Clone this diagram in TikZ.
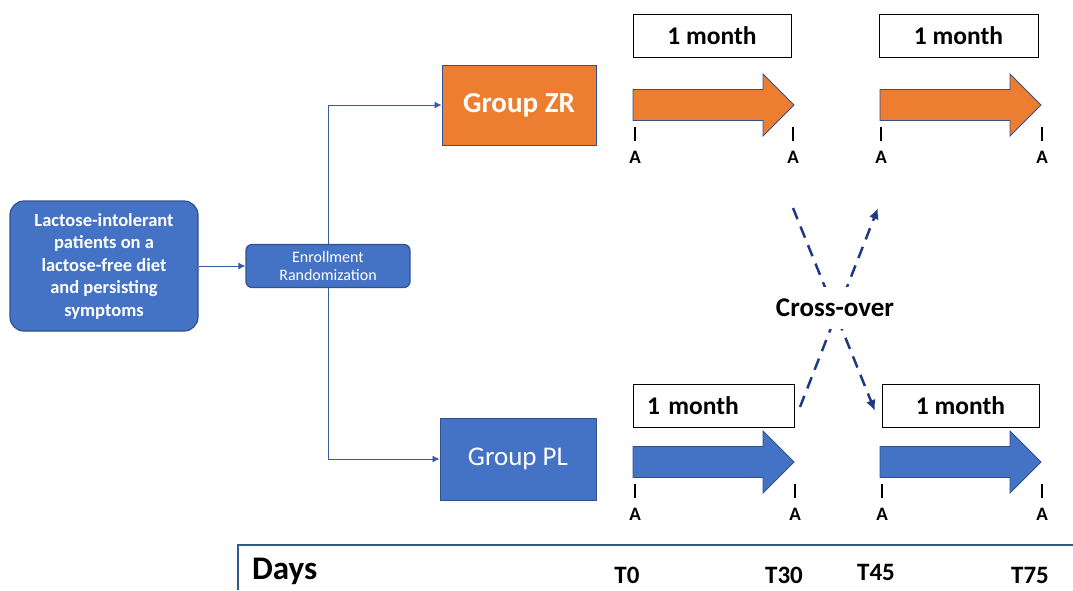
\documentclass[tikz,border=0pt]{standalone}
\usepackage{fontspec}
\setmainfont{Carlito}
\usetikzlibrary{arrows.meta}
\definecolor{orng}{HTML}{ED7D31}
\definecolor{blu}{HTML}{4472C4}
\definecolor{navy}{HTML}{2F528F}
\definecolor{connc}{HTML}{3A5BA0}
\definecolor{dashc}{HTML}{1F3A85}
\definecolor{dayc}{HTML}{2E5A8C}
\begin{document}
\begin{tikzpicture}[x=1pt,y=-1pt,
  bluebox/.style={draw=navy, line width=1.2pt, fill=blu, text=white, align=center},
  grpbox/.style={draw=navy, line width=1pt, text=white, font=\fontsize{27}{30}\selectfont},
  monthbox/.style={draw=black, line width=1pt, fill=white, font=\bfseries\fontsize{25.5}{28}\selectfont, minimum height=43pt},
  conn/.style={draw=connc, line width=0.9pt, -{Latex[length=7pt,width=7pt]}},
  xover/.style={draw=dashc, line width=2.5pt, dash pattern=on 12pt off 8pt, -{Latex[length=11pt,width=10pt]}},
  tick/.style={draw=black, line width=1.3pt},
  alab/.style={font=\bfseries\fontsize{19}{21}\selectfont, inner sep=0pt},
  tlab/.style={font=\bfseries\fontsize{25}{27}\selectfont, inner sep=0pt},
  barrow/.pic={\draw[navy, line width=0.8pt, fill=#1] (0,-15.5) -- (130,-15.5) -- (130,-31) -- (161,0) -- (130,31) -- (130,15.5) -- (0,15.5) -- cycle;}
]
\useasboundingbox (0,0) rectangle (1073,590);

% left boxes
\node[bluebox, rounded corners=14pt, minimum width=188pt, minimum height=130pt,
      font=\bfseries\fontsize{18.5}{22.5}\selectfont] (pat) at (104,266) {Lactose-intolerant\\patients on a\\lactose-free diet\\and persisting\\symptoms};
\node[bluebox, rounded corners=6pt, minimum width=164pt, minimum height=43pt,
      font=\fontsize{16}{18.5}\selectfont] (enr) at (328,266) {Enrollment\\Randomization};

% groups
\node[grpbox, fill=orng, minimum width=154pt, minimum height=80pt, font=\bfseries\fontsize{29}{32}\selectfont] (zr) at (519,105) {Group ZR};
\node[grpbox, fill=blu, minimum width=156pt, minimum height=82pt] (pl) at (518,459) {Group PL};

\draw[conn] (pat.east) -- (enr.west);
\draw[conn] (enr.north) |- (zr.west);
\draw[conn] (enr.south) |- (pl.west);

% month boxes
\node[monthbox, minimum width=158pt] (m1) at (712,36) {1 month};
\node[monthbox, minimum width=159pt] (m2) at (958.5,36) {1 month};
\node[monthbox, text width=133pt, inner xsep=14pt, align=left] (m3) at (713.5,406) {1 month};
\node[monthbox, minimum width=157pt] (m4) at (960.5,406) {1 month};

% block arrows
\pic at (633,105) {barrow=orng};
\pic at (880,105) {barrow=orng};
\pic at (633,462) {barrow=blu};
\pic at (880,462) {barrow=blu};

% ticks and A labels
\foreach \x/\y in {635/105, 793/105, 881/105, 1042/105, 635/462, 795/462, 882/462, 1042/462}{
  \draw[tick] (\x,\y+22) -- (\x,\y+36);
  \node[alab] at (\x,\y+52) {A};
}

% cross-over
\coordinate (a1) at (793,208);
\coordinate (a2) at (875,411);
\coordinate (b1) at (800,407);
\coordinate (b2) at (878,208);
\draw[xover] (a1) -- (a2);
\draw[xover] (b1) -- (b2);
\node[fill=white, inner ysep=12pt, inner xsep=1pt, font=\bfseries\fontsize{27}{30}\selectfont] (co) at (835,308) {Cross-over};

% days bar
\coordinate (d0) at (238,590);
\coordinate (d1) at (238,545);
\coordinate (d2) at (1073,545);
\draw[dayc, line width=2.5pt] (d0) -- (d1) -- (d2);
\node[font=\bfseries\fontsize{33}{36}\selectfont, anchor=west, inner sep=0pt] (days) at (252,571) {Days};
\node[tlab] (t0) at (627,575) {T0};
\node[tlab] (t30) at (784,575) {T30};
\node[tlab] (t45) at (876,572) {T45};
\node[tlab] (t75) at (1030,575) {T75};
\end{tikzpicture}
\end{document}
